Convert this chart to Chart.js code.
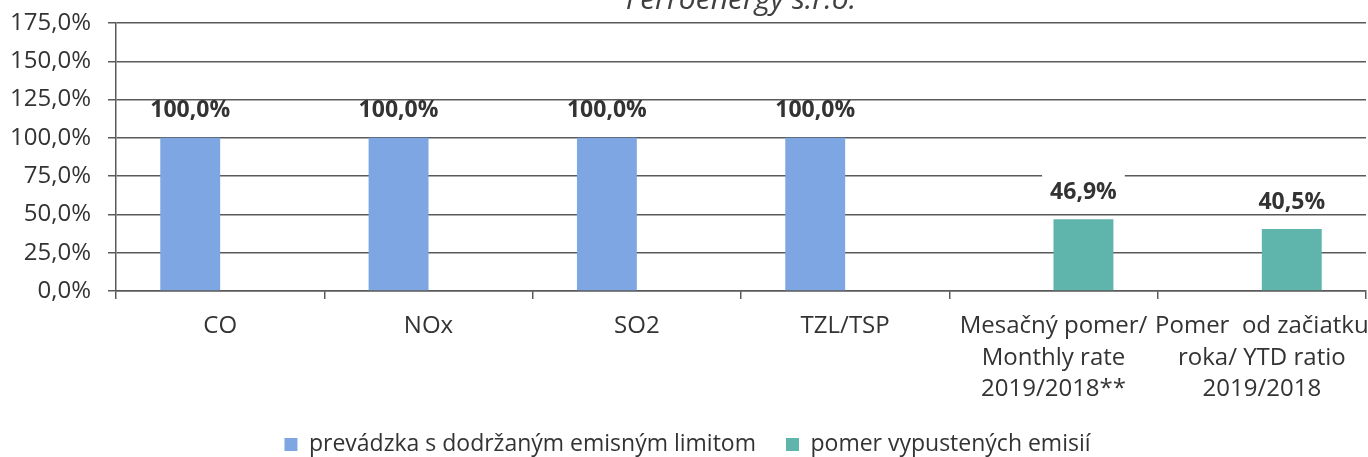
<!DOCTYPE html>
<html>
<head>
<meta charset="utf-8">
<script src="https://cdn.jsdelivr.net/npm/chart.js@4.4.1/dist/chart.umd.min.js"></script>
<style>
body { margin: 0; background: #fff; }
#wrap { width: 1368px; height: 457px; position: relative; }
</style>
</head>
<body>
<div id="wrap"><canvas id="myChart"></canvas></div>
<script>
// data
const chartTitle = 'Ferroenergy s.r.o.';
const categories = [
    'CO', 'NOx', 'SO2', 'TZL/TSP',
    ['Mesačný pomer/', 'Monthly rate', '2019/2018**'],
    ['Pomer  od začiatku', 'roka/ YTD ratio', '2019/2018']
];
const limitValues = [100, 100, 100, 100, null, null];
const ratioValues = [null, null, null, null, 46.9, 40.5];
const seriesNames = ['prevádzka s dodržaným emisným limitom', 'pomer vypustených emisií'];
const yMax = 175;
const yStep = 25;

const gridColor = '#5a5a5a';
const textColor = '#333333';

function pct(v) {
    return v.toFixed(1).replace('.', ',') + '%';
}

// title sits partly above the top edge in the reference
const titlePlugin = {
    id: 'topTitle',
    afterDraw(chart) {
        const ctx = chart.ctx;
        const area = chart.chartArea;
        ctx.save();
        ctx.font = 'italic 30px "Open Sans"';
        ctx.fillStyle = '#404040';
        ctx.textAlign = 'center';
        ctx.textBaseline = 'alphabetic';
        ctx.fillText(chartTitle, (area.left + area.right) / 2, 9);
        ctx.restore();
    }
};

const valueLabels = {
    id: 'valueLabels',
    afterDatasetsDraw(chart) {
        const ctx = chart.ctx;
        ctx.save();
        ctx.font = 'bold 23px "Open Sans"';
        ctx.textAlign = 'center';
        ctx.textBaseline = 'middle';
        chart.data.datasets.forEach((ds, di) => {
            const meta = chart.getDatasetMeta(di);
            meta.data.forEach((bar, i) => {
                const v = ds.data[i];
                if (v === null) return;
                const txt = pct(v);
                const y = bar.y - 27;
                if (di === 1) {
                    const w = ctx.measureText(txt).width;
                    ctx.fillStyle = '#ffffff';
                    ctx.fillRect(bar.x - w / 2 - 8, y - 20, w + 16, 32);
                }
                ctx.fillStyle = textColor;
                ctx.fillText(txt, bar.x, y);
            });
        });
        ctx.restore();
    }
};

Chart.defaults.font.family = '"Open Sans", sans-serif';

let myChart = document.getElementById('myChart').getContext('2d');
let emisChart = new Chart(myChart, {
    type: 'bar',
    data: {
        labels: categories,
        datasets: [{
            label: seriesNames[0],
            data: limitValues,
            backgroundColor: '#7da6e2',
            categoryPercentage: 0.575,
            barPercentage: 1
        }, {
            label: seriesNames[1],
            data: ratioValues,
            backgroundColor: '#5fb4ab',
            categoryPercentage: 0.575,
            barPercentage: 1
        }]
    },
    options: {
        responsive: true,
        maintainAspectRatio: false,
        animation: false,
        layout: { padding: { left: 9, right: 2, top: 23, bottom: 0 } },
        plugins: {
            title: { display: false },
            tooltip: { enabled: false },
            legend: {
                position: 'bottom',
                maxHeight: 54,
                labels: {
                    font: { size: 23 },
                    color: textColor,
                    boxWidth: 13,
                    boxHeight: 13,
                    padding: 30
                }
            }
        },
        scales: {
            x: {
                offset: true,
                afterFit(scale) {
                    scale.height = 112;
                    scale.paddingLeft = 0;
                    scale.paddingRight = 0;
                },
                grid: {
                    drawOnChartArea: false,
                    color: gridColor,
                    lineWidth: 1.5,
                    tickLength: 8
                },
                border: { color: gridColor, width: 1.5 },
                ticks: {
                    font: { size: 24, lineHeight: 1.3 },
                    color: textColor,
                    maxRotation: 0,
                    autoSkip: false,
                    padding: 12
                }
            },
            y: {
                min: 0,
                max: yMax,
                afterFit(scale) {
                    scale.width = 107;
                    scale.paddingTop = 0;
                },
                grid: {
                    color: gridColor,
                    lineWidth: 1.5,
                    tickLength: 8
                },
                border: { color: gridColor, width: 1.5 },
                ticks: {
                    stepSize: yStep,
                    font: { size: 24 },
                    color: textColor,
                    padding: 17,
                    callback: v => pct(v)
                }
            }
        }
    },
    plugins: [valueLabels, titlePlugin]
});
</script>
</body>
</html>
